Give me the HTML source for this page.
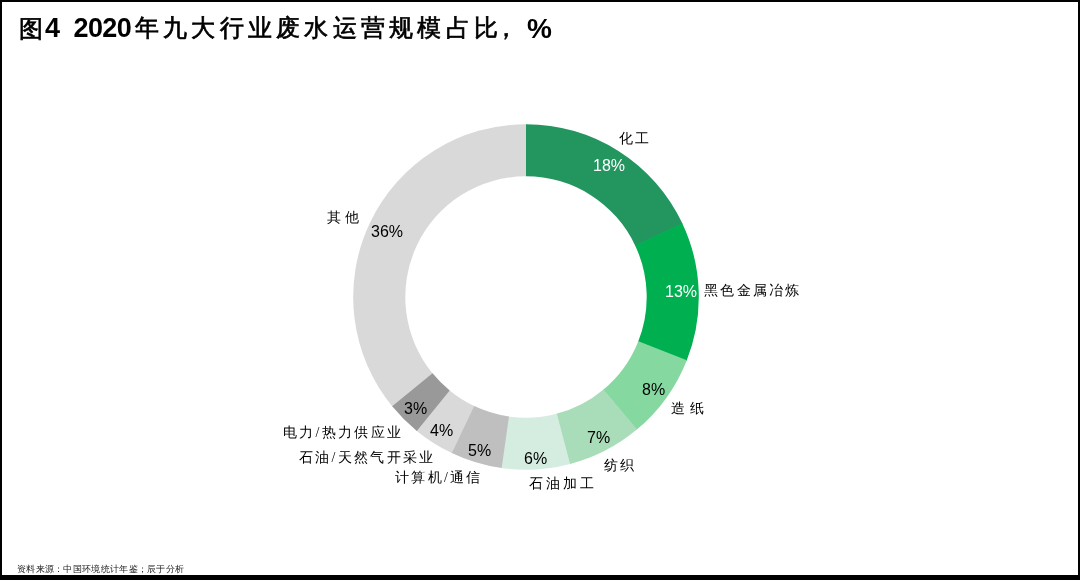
<!DOCTYPE html>
<html><head><meta charset="utf-8">
<style>
html,body{margin:0;padding:0;}
body{width:1080px;height:580px;position:relative;overflow:hidden;background:#000;}
#card{position:absolute;left:2px;top:2px;width:1076px;height:573px;background:#fff;}
.t{position:absolute;white-space:nowrap;line-height:1;will-change:transform;}
.ttl{font-family:"Liberation Sans",sans-serif;font-weight:bold;font-size:25px;color:#000;}
.lab{font-family:"Liberation Serif",serif;font-size:14px;color:#000;letter-spacing:2.3px;}
.pct{font-family:"Liberation Sans",sans-serif;font-size:16px;color:#000;}
.w{color:#fff;}
.ft{font-family:"Liberation Serif",serif;font-size:9px;color:#222;letter-spacing:0.3px;}
#chart{position:absolute;left:0;top:0;}
</style></head><body>
<div id="card"></div>
<svg id="chart" width="1080" height="580" viewBox="0 0 1080 580">
<path fill="#D9D9D9" d="M392.66,406.91A172.8,172.8 0 0 1 526.75,124.20L526.53,176.30A120.7,120.7 0 0 0 432.86,373.77Z"/>
<path fill="#23955F" d="M526.00,124.20A172.8,172.8 0 0 1 682.55,223.83L635.35,245.89A120.7,120.7 0 0 0 526.00,176.30Z"/>
<path fill="#00B050" d="M682.23,223.15A172.8,172.8 0 0 1 686.55,360.89L638.15,341.63A120.7,120.7 0 0 0 635.12,245.42Z"/>
<path fill="#85D9A0" d="M686.83,360.19A172.8,172.8 0 0 1 636.50,429.86L603.18,389.80A120.7,120.7 0 0 0 638.34,341.14Z"/>
<path fill="#A9DCB8" d="M637.07,429.37A172.8,172.8 0 0 1 569.41,464.26L556.32,413.83A120.7,120.7 0 0 0 603.58,389.46Z"/>
<path fill="#D5ECE1" d="M570.14,464.07A172.8,172.8 0 0 1 500.91,467.97L508.47,416.42A120.7,120.7 0 0 0 556.83,413.70Z"/>
<path fill="#BFBFBF" d="M501.65,468.08A172.8,172.8 0 0 1 451.20,452.77L473.75,405.81A120.7,120.7 0 0 0 508.99,416.50Z"/>
<path fill="#D9D9D9" d="M451.88,453.10A172.8,172.8 0 0 1 416.20,430.43L449.31,390.20A120.7,120.7 0 0 0 474.23,406.03Z"/>
<path fill="#999999" d="M416.79,430.91A172.8,172.8 0 0 1 392.18,406.33L432.53,373.37A120.7,120.7 0 0 0 449.71,390.54Z"/>
</svg>
<div class="t ttl" id="title" style="left:0px;top:0px;"><span style="position:absolute;left:19.25px;top:16.5px;font-size:24px;font-weight:normal;-webkit-text-stroke:0.7px #000">图</span><span style="position:absolute;left:45px;top:15.2px;font-size:27px">4</span><span style="position:absolute;left:73.5px;top:15.2px;font-size:27px;letter-spacing:-0.6px">2020</span><span style="position:absolute;left:134.75px;top:16px;font-size:24px;letter-spacing:4.25px;font-weight:normal;-webkit-text-stroke:0.7px #000">年九大行业废水运营规模占比</span><span style="position:absolute;left:494px;top:16px;font-size:24px;font-weight:normal;-webkit-text-stroke:0.7px #000">，</span><span style="position:absolute;left:527px;top:14.5px;font-size:28px">%</span></div>
<div class="t lab" id="l_hg" style="left:619.0px;top:131.5px;letter-spacing:2.4px;">化工</div>
<div class="t pct w" id="p18" style="left:593px;top:158px;">18%</div>
<div class="t lab" id="l_hs" style="left:704px;top:283.5px;">黑色金属冶炼</div>
<div class="t pct w" id="p13" style="left:664.5px;top:284px;">13%</div>
<div class="t pct" id="p8" style="left:641.8px;top:381.5px;">8%</div>
<div class="t lab" id="l_zz" style="left:671px;top:401.5px;letter-spacing:4.6px;">造纸</div>
<div class="t pct" id="p7" style="left:587px;top:430px;">7%</div>
<div class="t lab" id="l_fz" style="left:604px;top:458.5px;">纺织</div>
<div class="t pct" id="p6" style="left:523.5px;top:451px;">6%</div>
<div class="t lab" id="l_syjg" style="left:529px;top:476.5px;letter-spacing:3px;">石油加工</div>
<div class="t pct" id="p5" style="left:468px;top:443px;">5%</div>
<div class="t lab" id="l_js" style="left:395px;top:470.5px;">计算机/通信</div>
<div class="t pct" id="p4" style="left:429.6px;top:423px;">4%</div>
<div class="t lab" id="l_sy" style="left:299px;top:450.5px;">石油/天然气开采业</div>
<div class="t pct" id="p3" style="left:403.7px;top:400.5px;">3%</div>
<div class="t lab" id="l_dl" style="left:283px;top:425.5px;">电力/热力供应业</div>
<div class="t lab" id="l_qt" style="left:327.2px;top:210.5px;letter-spacing:3.8px;">其他</div>
<div class="t pct" id="p36" style="left:371px;top:224px;">36%</div>
<div class="t ft" id="foot" style="left:17px;top:565px;">资料来源：中国环境统计年鉴；辰于分析</div>
</body></html>
